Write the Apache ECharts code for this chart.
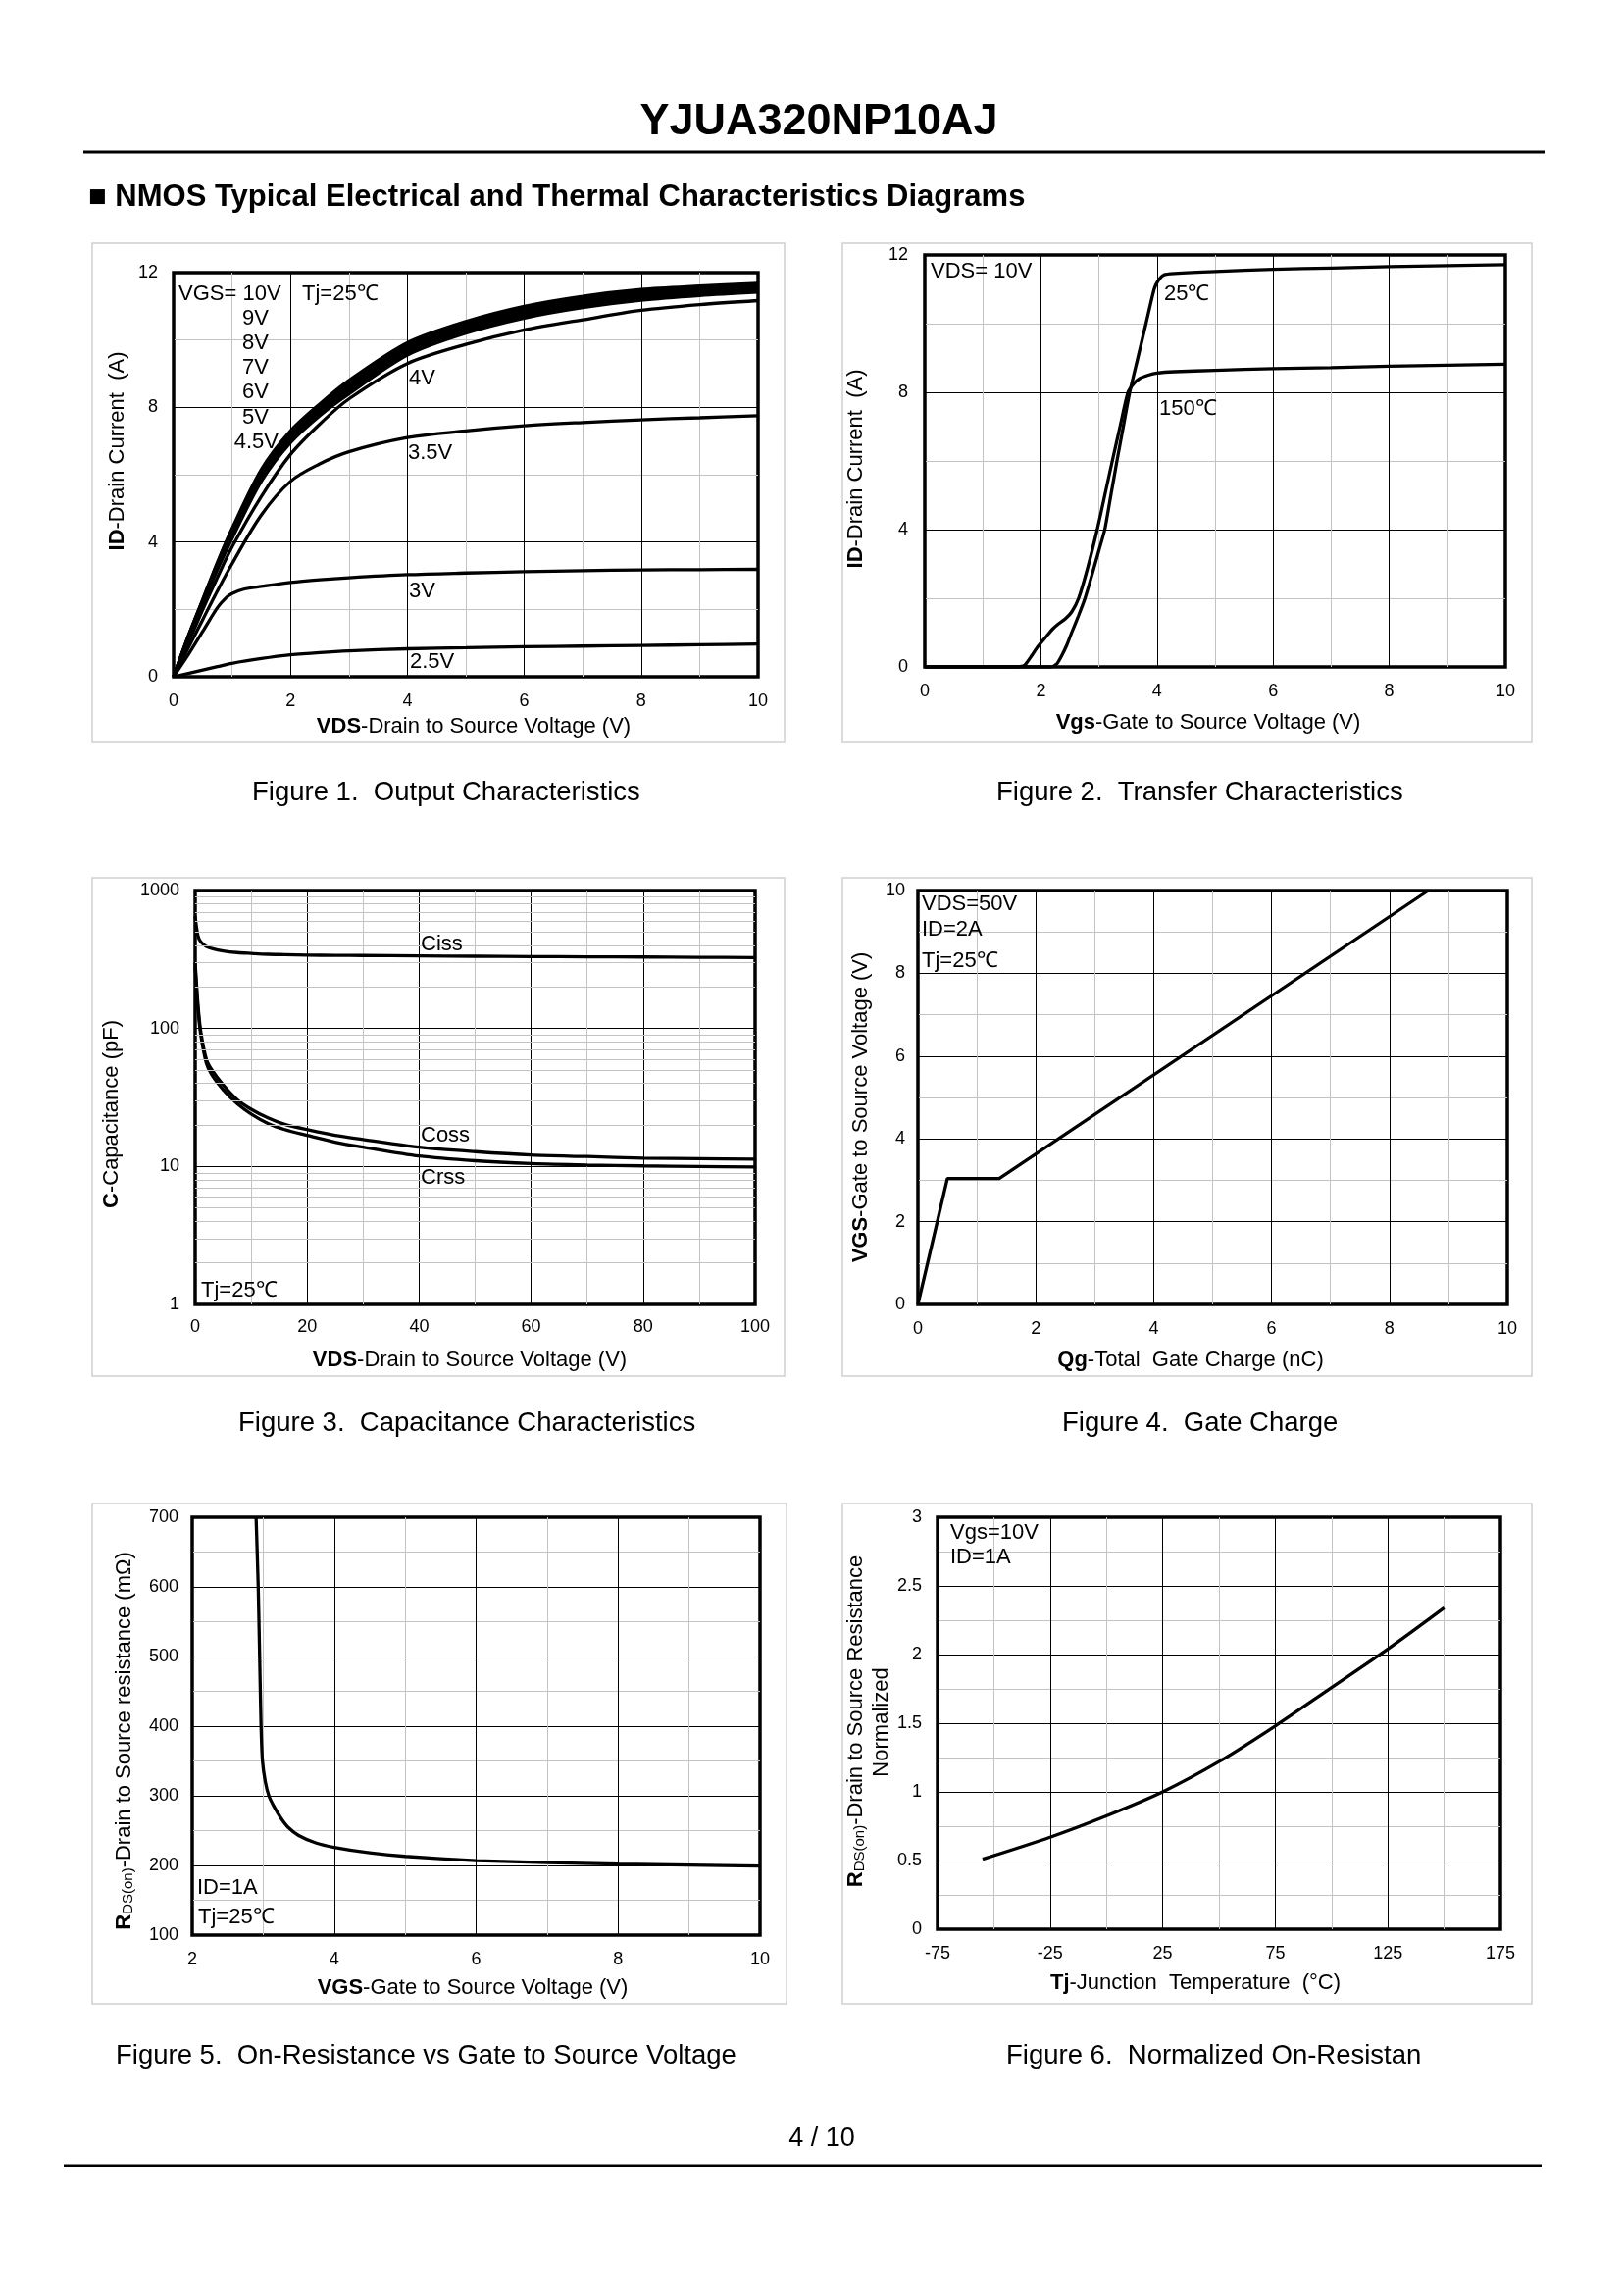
<!DOCTYPE html>
<html><head><meta charset="utf-8">
<script src="https://cdn.jsdelivr.net/npm/echarts@6/dist/echarts.min.js"></script>
<style>html,body{margin:0;padding:0;background:#fff}#c{width:1656px;height:2339px}</style>
</head><body><div id="c"></div>
<script>
// ---------- Figure 1: Output characteristics ----------
const vdsOut = [0, 0.25, 0.5, 0.75, 1, 1.5, 2, 2.5, 3, 4, 5, 6, 7, 8, 9, 10];
const id10V  = [0, 1.2, 2.3, 3.4, 4.4, 6.15, 7.3, 8.1, 8.8, 9.92, 10.55, 11.0, 11.3, 11.5, 11.6, 11.68];
const id9V   = [0, 1.19, 2.28, 3.37, 4.36, 6.1, 7.25, 8.05, 8.74, 9.86, 10.49, 10.94, 11.25, 11.46, 11.56, 11.64];
const id8V   = [0, 1.18, 2.26, 3.34, 4.32, 6.05, 7.2, 8.0, 8.68, 9.8, 10.43, 10.88, 11.2, 11.41, 11.52, 11.6];
const id7V   = [0, 1.17, 2.24, 3.31, 4.28, 6.0, 7.15, 7.94, 8.62, 9.74, 10.37, 10.82, 11.14, 11.36, 11.48, 11.56];
const id6V   = [0, 1.16, 2.22, 3.28, 4.23, 5.94, 7.1, 7.88, 8.56, 9.68, 10.31, 10.76, 11.08, 11.3, 11.43, 11.52];
const id5V   = [0, 1.15, 2.19, 3.24, 4.17, 5.87, 7.03, 7.82, 8.48, 9.62, 10.26, 10.71, 11.02, 11.25, 11.38, 11.47];
const id45V  = [0, 1.13, 2.15, 3.18, 4.1, 5.8, 6.95, 7.75, 8.4, 9.55, 10.2, 10.65, 10.96, 11.18, 11.32, 11.42];
const id4V   = [0, 1.0, 2.0, 2.95, 3.85, 5.35, 6.6, 7.5, 8.25, 9.3, 9.87, 10.3, 10.6, 10.88, 11.05, 11.17];
const id35V  = [0, 0.85, 1.7, 2.55, 3.35, 4.8, 5.8, 6.32, 6.68, 7.1, 7.3, 7.45, 7.55, 7.63, 7.69, 7.75];
const id25V  = [0, 0.1, 0.2, 0.3, 0.4, 0.54, 0.65, 0.72, 0.77, 0.83, 0.86, 0.89, 0.91, 0.93, 0.95, 0.97];
const vds3V  = [0, 0.25, 0.5, 0.75, 0.9, 1, 1.2, 1.5, 2, 2.5, 3, 4, 5, 6, 7, 8, 9, 10];
const id3V   = [0, 0.65, 1.35, 2.05, 2.35, 2.47, 2.6, 2.68, 2.8, 2.88, 2.94, 3.03, 3.08, 3.12, 3.15, 3.17, 3.18, 3.19];

// ---------- Figure 2: Transfer characteristics ----------
const vgs25  = [0, 2.18, 2.27, 2.35, 2.45, 2.53, 2.65, 2.76, 2.9, 3.0, 3.1, 3.2, 3.31, 3.42, 3.53, 3.67, 3.81, 3.95, 4.02, 4.12, 4.3, 5, 6, 7, 8, 9, 10];
const id25   = [0, 0, 0.08, 0.3, 0.65, 1.0, 1.5, 2.0, 2.8, 3.4, 4.0, 4.95, 6.0, 7.0, 8.0, 9.0, 10.0, 11.0, 11.25, 11.42, 11.46, 11.52, 11.58, 11.62, 11.66, 11.69, 11.72];
const vgs150 = [0, 1.6, 1.72, 1.85, 1.95, 2.1, 2.2, 2.3, 2.42, 2.53, 2.65, 2.8, 2.97, 3.1, 3.23, 3.37, 3.5, 3.6, 3.7, 3.85, 4.0, 4.3, 5, 6, 7, 8, 9, 10];
const id150  = [0, 0, 0.05, 0.35, 0.6, 0.9, 1.1, 1.25, 1.4, 1.6, 2.0, 2.85, 4.0, 5.0, 6.0, 7.05, 8.0, 8.25, 8.4, 8.5, 8.56, 8.6, 8.64, 8.69, 8.72, 8.76, 8.79, 8.82];

// ---------- Figure 3: Capacitance ----------
const vdsCap = [0, 0.5, 1, 2, 3, 5, 7.5, 10, 13, 16, 20, 25, 30, 40, 50, 60, 70, 80, 90, 100];
const ciss   = [650, 470, 425, 393, 380, 365, 355, 350, 345, 343, 340, 339, 338, 336, 334, 332, 331, 330, 328, 327];
const coss   = [300, 150, 95, 60, 50, 39, 30.5, 26, 22.5, 20.2, 18.5, 16.8, 15.7, 13.8, 12.8, 12.1, 11.8, 11.5, 11.4, 11.3];
const crss   = [280, 140, 90, 56, 46, 36, 28.5, 24, 20.5, 18.5, 16.8, 15, 13.8, 11.9, 11.0, 10.5, 10.25, 10.1, 10.0, 9.9];
const capMinorTicks = [2, 3, 4, 5, 6, 7, 8, 9, 20, 30, 40, 50, 60, 70, 80, 90, 200, 300, 400, 500, 600, 700, 800, 900];

// ---------- Figure 4: Gate charge ----------
const qg   = [0, 0.5, 1.38, 8.66];
const vgsQ = [0, 3.04, 3.04, 10];

// ---------- Figure 5: RDS(on) vs VGS ----------
const vgsR = [2.9, 2.93, 2.95, 2.97, 2.99, 3.03, 3.08, 3.15, 3.25, 3.35, 3.5, 3.75, 4.0, 4.5, 5.0, 6.0, 7.0, 8.0, 9.0, 10];
const rds  = [700, 600, 500, 400, 350, 320, 300, 285, 268, 255, 243, 232, 226, 218, 213, 207, 204, 202, 200.5, 199];

// ---------- Figure 6: Normalized RDS(on) vs Tj ----------
const tj    = [-55, -25, 0, 25, 50, 75, 100, 125, 150];
const rNorm = [0.51, 0.67, 0.825, 1.0, 1.22, 1.48, 1.76, 2.04, 2.34];

const FONT = '"Liberation Sans", Arial, Helvetica, sans-serif';
const GRAY = '#c3c3c3';

function pairs(xs, ys) { return xs.map((x, i) => [x, ys[i]]); }

function axis(gi, min, max, interval, minorN, margin, extra) {
  return Object.assign({
    type: 'value', gridIndex: gi, min: min, max: max, interval: interval,
    axisLine: { show: false }, axisTick: { show: false },
    axisLabel: { color: '#000', fontFamily: FONT, fontSize: 18, margin: margin },
    splitLine: { show: true, lineStyle: { color: '#000', width: 1 } },
    minorTick: { show: false, splitNumber: minorN },
    minorSplitLine: { show: true, lineStyle: { color: GRAY, width: 1 } }
  }, extra || {});
}

function ln(name, gi, xs, ys, smooth) {
  return {
    type: 'line', name: name, xAxisIndex: gi, yAxisIndex: gi,
    data: pairs(xs, ys), symbol: 'none', showSymbol: false,
    smooth: smooth, silent: true, z: 3,
    lineStyle: { color: '#000', width: 3.3 }
  };
}

const grids = [
  { left: 177, top: 278, width: 596, height: 412 },
  { left: 943, top: 260, width: 592, height: 420 },
  { left: 199, top: 908, width: 571, height: 422 },
  { left: 936, top: 908, width: 601, height: 422 },
  { left: 196, top: 1547, width: 579, height: 426 },
  { left: 956, top: 1547, width: 574, height: 420 }
].map(g => Object.assign(g, { show: true, borderColor: '#000', borderWidth: 3.5, backgroundColor: 'transparent', containLabel: false }));

const xAxis = [
  axis(0, 0, 10, 2, 2, 16),
  axis(1, 0, 10, 2, 2, 16),
  axis(2, 0, 100, 20, 2, 14),
  axis(3, 0, 10, 2, 2, 16),
  axis(4, 2, 10, 2, 2, 16),
  axis(5, -75, 175, 25, 1, 16, {
    axisLabel: { color: '#000', fontFamily: FONT, fontSize: 18, margin: 16,
      formatter: v => ((v + 75) % 50 === 0 ? String(v) : '') },
    splitLine: { show: true, lineStyle: { color: ['#000', GRAY], width: 1 } },
    minorSplitLine: { show: false }
  })
];
const yAxis = [
  axis(0, 0, 12, 4, 2, 16),
  axis(1, 0, 12, 4, 2, 17),
  { type: 'log', logBase: 10, gridIndex: 2, min: 1, max: 1000,
    axisLine: { show: false }, axisTick: { show: false },
    axisLabel: { color: '#000', fontFamily: FONT, fontSize: 18, margin: 16, formatter: v => String(Math.round(v)) },
    splitLine: { show: true, lineStyle: { color: '#000', width: 1 } } },
  axis(3, 0, 10, 2, 2, 13),
  axis(4, 100, 700, 100, 2, 14),
  axis(5, 0, 3, 0.5, 2, 16)
];

const series = [
  ln('VGS=10V', 0, vdsOut, id10V, 0.3),
  ln('VGS=9V', 0, vdsOut, id9V, 0.3),
  ln('VGS=8V', 0, vdsOut, id8V, 0.3),
  ln('VGS=7V', 0, vdsOut, id7V, 0.3),
  ln('VGS=6V', 0, vdsOut, id6V, 0.3),
  ln('VGS=5V', 0, vdsOut, id5V, 0.3),
  ln('VGS=4.5V', 0, vdsOut, id45V, 0.3),
  ln('VGS=4V', 0, vdsOut, id4V, 0.3),
  ln('VGS=3.5V', 0, vdsOut, id35V, 0.35),
  ln('VGS=3V', 0, vds3V, id3V, 0.3),
  ln('VGS=2.5V', 0, vdsOut, id25V, 0.3),
  ln('25°C', 1, vgs25, id25, 0.2),
  ln('150°C', 1, vgs150, id150, 0.2),
  { type: 'line', name: 'minor', xAxisIndex: 2, yAxisIndex: 2, data: [], z: 1, silent: true,
    markLine: { silent: true, symbol: ['none', 'none'], label: { show: false }, animation: false,
      lineStyle: { color: GRAY, width: 1, type: 'solid' },
      data: capMinorTicks.map(v => ({ yAxis: v })) } },
  ln('Ciss', 2, vdsCap, ciss, 0.3),
  ln('Coss', 2, vdsCap, coss, 0.3),
  ln('Crss', 2, vdsCap, crss, 0.3),
  ln('VGS', 3, qg, vgsQ, false),
  ln('RDS(on)', 4, vgsR, rds, 0.2),
  ln('RDS(on) normalized', 5, tj, rNorm, 0.3)
];

function txt(x, y, text, size, opts) {
  return { type: 'text', x: x, y: y, silent: true, z: 10,
    style: Object.assign({ text: text, fill: '#000', fontFamily: FONT, fontSize: size,
      align: 'left', verticalAlign: 'middle' }, opts || {}) };
}
function rich(size) {
  return {
    b: { fontWeight: 'bold', fontSize: size, fontFamily: FONT, fill: '#000', verticalAlign: 'bottom' },
    n: { fontSize: size, fontFamily: FONT, fill: '#000', verticalAlign: 'bottom' },
    s: { fontSize: Math.round(size * 0.68), fontFamily: FONT, fill: '#000', verticalAlign: 'bottom' }
  };
}
function xTitle(x, y, text) { return txt(x, y, text, 22, { align: 'center', rich: rich(22) }); }
function yTitle(x, y, text) {
  const t = txt(x, y, text, 22, { align: 'center', rich: rich(22) });
  t.rotation = Math.PI / 2;
  return t;
}
function box(x1, y1, x2, y2) {
  return { type: 'rect', silent: true, z: 0, shape: { x: x1, y: y1, width: x2 - x1, height: y2 - y1 },
    style: { fill: 'none', stroke: '#cfcfcf', lineWidth: 1.5 } };
}
function hline(x1, x2, y, w) {
  return { type: 'line', silent: true, shape: { x1: x1, y1: y, x2: x2, y2: y }, style: { stroke: '#000', lineWidth: w } };
}

const A = 22; // annotation font size
const graphic = [
  txt(835, 125, 'YJUA320NP10AJ', 45, { align: 'center', fontWeight: 'bold' }),
  hline(85, 1575, 155, 3),
  txt(90, 201, '■ NMOS Typical Electrical and Thermal Characteristics Diagrams', 31, { fontWeight: 'bold' }),
  box(94, 248, 800, 757), box(859, 248, 1562, 757),
  box(94, 895, 800, 1403), box(859, 895, 1562, 1403),
  box(94, 1533, 802, 2043), box(859, 1533, 1562, 2043),
  // captions
  txt(257, 808, 'Figure 1.  Output Characteristics', 27.5),
  txt(1016, 808, 'Figure 2.  Transfer Characteristics', 27.5),
  txt(243, 1451, 'Figure 3.  Capacitance Characteristics', 27.5),
  txt(1083, 1451, 'Figure 4.  Gate Charge', 27.5),
  txt(118, 2096, 'Figure 5.  On-Resistance vs Gate to Source Voltage', 27.5),
  txt(1026, 2096, 'Figure 6.  Normalized On-Resistan', 27.5),
  txt(838, 2181, '4 / 10', 27, { align: 'center' }),
  hline(65, 1572, 2208, 3),
  // axis titles
  xTitle(483, 741, '{b|VDS}{n|-Drain to Source Voltage (V)}'),
  yTitle(120, 460, '{b|ID}{n|-Drain Current  (A)}'),
  xTitle(1232, 737, '{b|Vgs}{n|-Gate to Source Voltage (V)}'),
  yTitle(873, 478, '{b|ID}{n|-Drain Current  (A)}'),
  xTitle(479, 1387, '{b|VDS}{n|-Drain to Source Voltage (V)}'),
  yTitle(114, 1136, '{b|C}{n|-Capacitance (pF)}'),
  xTitle(1214, 1387, '{b|Qg}{n|-Total  Gate Charge (nC)}'),
  yTitle(878, 1129, '{b|VGS}{n|-Gate to Source Voltage (V)}'),
  xTitle(482, 2027, '{b|VGS}{n|-Gate to Source Voltage (V)}'),
  yTitle(127, 1775, '{b|R}{s|DS(on)}{n|-Drain to Source resistance (mΩ)}'),
  xTitle(1219, 2022, '{b|Tj}{n|-Junction  Temperature  (°C)}'),
  yTitle(873, 1755, '{b|R}{s|DS(on)}{n|-Drain to Source Resistance}'),
  yTitle(899, 1756, '{n|Normalized}'),
  // Figure 1 annotations
  txt(182, 300, 'VGS= 10V', A), txt(308, 300, 'Tj=25℃', A),
  txt(274, 325, '9V', A, { align: 'right' }),
  txt(274, 350, '8V', A, { align: 'right' }),
  txt(274, 375, '7V', A, { align: 'right' }),
  txt(274, 400, '6V', A, { align: 'right' }),
  txt(274, 426, '5V', A, { align: 'right' }),
  txt(284, 451, '4.5V', A, { align: 'right' }),
  txt(417, 386, '4V', A), txt(416, 462, '3.5V', A),
  txt(417, 603, '3V', A), txt(418, 675, '2.5V', A),
  // Figure 2 annotations
  txt(949, 277, 'VDS= 10V', A), txt(1187, 300, '25℃', A), txt(1182, 417, '150℃', A),
  // Figure 3 annotations
  txt(429, 963, 'Ciss', A), txt(429, 1158, 'Coss', A), txt(429, 1201, 'Crss', A),
  txt(205, 1316, 'Tj=25℃', A),
  // Figure 4 annotations
  txt(940, 922, 'VDS=50V', A), txt(940, 948, 'ID=2A', A), txt(940, 980, 'Tj=25℃', A),
  // Figure 5 annotations
  txt(201, 1925, 'ID=1A', A), txt(202, 1955, 'Tj=25℃', A),
  // Figure 6 annotations
  txt(969, 1563, 'Vgs=10V', A), txt(969, 1588, 'ID=1A', A)
];

const chart = echarts.init(document.getElementById('c'), null, { renderer: 'canvas' });
chart.setOption({
  backgroundColor: '#fff',
  animation: false,
  textStyle: { fontFamily: FONT },
  grid: grids, xAxis: xAxis, yAxis: yAxis, series: series, graphic: graphic
});
</script></body></html>
